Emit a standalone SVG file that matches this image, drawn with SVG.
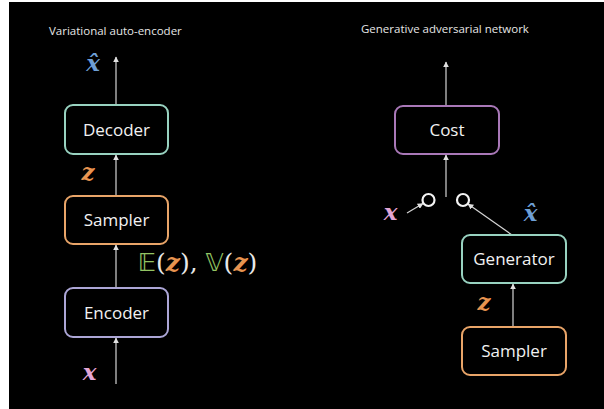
<svg xmlns="http://www.w3.org/2000/svg" width="604" height="409" viewBox="0 0 604 409">
  <style>
    .title { font-family: "Open Sans", "Liberation Sans", sans-serif; font-size: 11.5px; fill: #e6e6e6; }
    .lbl { font-family: "Open Sans", "Liberation Sans", sans-serif; font-size: 17px; fill: #f2f2f2; text-anchor: middle; }
    .box { fill: #000; stroke-width: 2; }
    .teal { stroke: #98d2c0; }
    .orange { stroke: #e8a468; }
    .lav { stroke: #aca6d6; }
    .purple { stroke: #a978b8; }
    .math { font-family: "DejaVu Serif", "Liberation Serif", serif; font-style: italic; font-weight: bold; font-size: 23px; text-anchor: middle; }
    .big { font-size: 25px; }
    .bb { font-family: "DejaVu Sans", "DejaVu Serif", sans-serif; font-style: normal; font-weight: normal; }
    .pl { font-family: "DejaVu Serif", "Liberation Serif", serif; font-style: normal; font-weight: normal; fill: #e8e8e8; }
    .conn line { stroke: #d4d4d4; stroke-width: 1.2; }
    .conn circle { fill: none; stroke: #f4f4f4; stroke-width: 2.2; }
  </style>
  <defs>
    <marker id="head" viewBox="0 0 10 10" refX="9" refY="5" markerWidth="5" markerHeight="5" orient="auto">
      <path d="M0,0 L10,5 L0,10 z" fill="#e0e0e0"/>
    </marker>
  </defs>

  <!-- page background with thin light margin -->
  <rect x="0" y="0" width="604" height="409" fill="#ffffff"/>
  <rect x="9" y="2" width="595" height="407" fill="#000000"/>

  <text class="title" x="49" y="35">Variational auto-encoder</text>
  <text class="title" x="361" y="33">Generative adversarial network</text>

  <!-- connectors -->
  <g id="connectors" class="conn">
    <line x1="116" y1="105" x2="116" y2="57" marker-end="url(#head)"/>
    <line x1="116" y1="197" x2="116" y2="155" marker-end="url(#head)"/>
    <line x1="116" y1="288" x2="116" y2="245" marker-end="url(#head)"/>
    <line x1="116" y1="384" x2="116" y2="338" marker-end="url(#head)"/>

    <line x1="446" y1="106" x2="446" y2="62" marker-end="url(#head)"/>
    <line x1="446" y1="197" x2="446" y2="155" marker-end="url(#head)"/>
    <line x1="407" y1="213" x2="423" y2="203.5" marker-end="url(#head)"/>
    <line x1="512" y1="235" x2="468" y2="204" marker-end="url(#head)"/>
    <line x1="513" y1="327" x2="513" y2="284" marker-end="url(#head)"/>
    <circle cx="428.5" cy="200" r="6"/>
    <circle cx="463" cy="200" r="6"/>
  </g>

  <!-- VAE nodes -->
  <g id="decoder">
    <rect class="box teal" x="65" y="105" width="103" height="49" rx="8"/>
    <text class="lbl" x="116.5" y="135.5">Decoder</text>
  </g>
  <g id="vae-sampler">
    <rect class="box orange" x="65" y="196" width="103" height="48" rx="8"/>
    <text class="lbl" x="116.5" y="226">Sampler</text>
  </g>
  <g id="encoder">
    <rect class="box lav" x="65" y="288" width="103" height="49" rx="8"/>
    <text class="lbl" x="116.5" y="318.5">Encoder</text>
  </g>

  <!-- GAN nodes -->
  <g id="cost">
    <rect class="box purple" x="395" y="106" width="104" height="48" rx="8"/>
    <text class="lbl" x="447" y="136">Cost</text>
  </g>
  <g id="generator">
    <rect class="box teal" x="462" y="235" width="104" height="48" rx="8"/>
    <text class="lbl" x="514" y="265">Generator</text>
  </g>
  <g id="gan-sampler">
    <rect class="box orange" x="462" y="327" width="104" height="48" rx="8"/>
    <text class="lbl" x="514" y="357">Sampler</text>
  </g>

  <!-- math labels -->
  <text class="math" x="93" y="71" fill="#6e9fd4">x&#770;</text>
  <text class="math" x="88" y="180" fill="#e89450">z</text>
  <text class="math" x="89.5" y="380" fill="#e4a6d6">x</text>
  <text class="math big" x="197.5" y="271" fill="#e89450"><tspan class="bb" fill="#93c463">&#x1D53C;</tspan><tspan class="pl">(</tspan>z<tspan class="pl">),</tspan><tspan class="pl"> </tspan><tspan class="bb" fill="#93c463">&#x1D54D;</tspan><tspan class="pl">(</tspan>z<tspan class="pl">)</tspan></text>

  <text class="math" x="390.5" y="220" fill="#e4a6d6">x</text>
  <text class="math" x="530.5" y="221" fill="#6e9fd4">x&#770;</text>
  <text class="math" x="484" y="310" fill="#e89450">z</text>
</svg>
